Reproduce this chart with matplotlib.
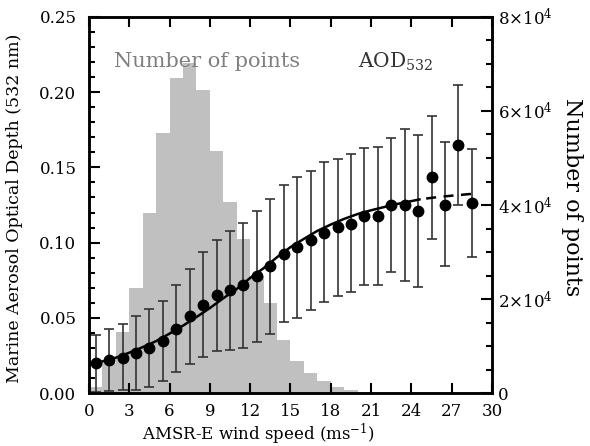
#!/usr/bin/env python3
"""Marine AOD (532 nm) vs AMSR-E wind speed, with histogram of number of points."""

import matplotlib

matplotlib.use("Agg")
import matplotlib.pyplot as plt
import numpy as np

plt.rcParams["font.family"] = ["DejaVu Serif", "DejaVu Sans"]
plt.rcParams["mathtext.fontset"] = "dejavuserif"

# histogram: 1 m/s bins from 0 to 30
bin_edges = list(range(0, 31))
counts = [1300, 6300, 12900, 22400, 38300, 55400, 67100, 70200, 64500, 51400,
          40700, 32700, 24800, 19100, 11300, 6800, 4200, 2500, 1300, 600,
          250, 100, 50, 0, 0, 0, 0, 0, 0, 0]

# binned mean AOD with error bars
wind = [0.5, 1.5, 2.5, 3.5, 4.5, 5.5, 6.5, 7.5, 8.5, 9.5,
        10.5, 11.5, 12.5, 13.5, 14.5, 15.5, 16.5, 17.5, 18.5, 19.5,
        20.5, 21.5, 22.5, 23.5, 24.5, 25.5, 26.5, 27.5, 28.5]
aod = [0.0198, 0.0220, 0.0236, 0.0264, 0.0298, 0.0347, 0.0427, 0.0509, 0.0587, 0.0653,
       0.0682, 0.0718, 0.0776, 0.0842, 0.0924, 0.0969, 0.1016, 0.1064, 0.1102, 0.1124,
       0.1176, 0.1180, 0.1249, 0.1249, 0.1209, 0.1436, 0.1253, 0.1649, 0.1260]
aod_hi = [0.0387, 0.0425, 0.0458, 0.0509, 0.0558, 0.0613, 0.0720, 0.0824, 0.0936, 0.1020,
          0.1080, 0.1131, 0.1209, 0.1293, 0.1380, 0.1436, 0.1476, 0.1536, 0.1558, 0.1587,
          0.1627, 0.1636, 0.1693, 0.1753, 0.1713, 0.1842, 0.1669, 0.2049, 0.1620]
aod_lo = [0.0010, 0.0015, 0.0020, 0.0020, 0.0038, 0.0080, 0.0138, 0.0190, 0.0242, 0.0280,
          0.0287, 0.0298, 0.0342, 0.0391, 0.0469, 0.0498, 0.0553, 0.0602, 0.0642, 0.0669,
          0.0720, 0.0716, 0.0804, 0.0742, 0.0702, 0.1024, 0.0842, 0.1253, 0.0902]

# fitted curve (solid part, then dashed extension)
fit_x = [0.2, 1, 2, 3, 4, 5, 6, 7, 8, 9, 10, 11, 12, 13, 14, 15, 16, 17, 18, 19,
         20, 21, 22, 23, 24, 24.6]
fit_y = [0.0195, 0.0210, 0.0235, 0.0268, 0.0305, 0.0345, 0.0395, 0.0448, 0.0505, 0.0565,
         0.0630, 0.0692, 0.0765, 0.0830, 0.0903, 0.0970, 0.1025, 0.1078, 0.1120, 0.1158,
         0.1190, 0.1215, 0.1237, 0.1258, 0.1276, 0.1287]
ext_x = [25.1, 26.0, 27.0, 28.0, 28.5]
ext_y = [0.1293, 0.1303, 0.1312, 0.1320, 0.1324]

fig = plt.figure(figsize=(5.9, 4.46), dpi=100)
ax = fig.add_axes([0.1508, 0.1188, 0.6831, 0.8431])
ax2 = ax.twinx()
ax.set_zorder(ax2.get_zorder() + 1)
ax.patch.set_visible(False)

ax2.stairs(counts, bin_edges, fill=True, color="#c0c0c0", linewidth=0)
ax2.set_ylim(0, 80000)
ax2.set_yticks([0, 20000, 40000, 60000, 80000],
               ["0", r"$2{\times}10^4$", r"$4{\times}10^4$", r"$6{\times}10^4$", r"$8{\times}10^4$"])
ax2.set_yticks(np.arange(0, 80001, 5000), minor=True)
ax2.set_ylabel("Number of points", rotation=-90, fontsize=16)
ax2.yaxis.set_label_coords(1.225, 0.52)

err = [np.array(aod) - np.array(aod_lo), np.array(aod_hi) - np.array(aod)]
ax.errorbar(wind, aod, yerr=err, fmt="o", color="black", ecolor="#333333",
            elinewidth=1.2, capsize=3.5, capthick=1.2, markersize=7.5)
ax.plot(fit_x, fit_y, color="black", linewidth=1.8)
ax.plot(ext_x, ext_y, color="black", linewidth=1.8, linestyle=(0, (4, 3)))

ax.set_xlim(0, 30)
ax.set_ylim(0, 0.25)
ax.set_xticks(range(0, 31, 3))
ax.set_yticks([0, 0.05, 0.10, 0.15, 0.20, 0.25])
ax.set_yticks(np.arange(0, 0.2501, 0.01), minor=True)
ax.yaxis.set_major_formatter(matplotlib.ticker.FormatStrFormatter("%.2f"))
ax.set_xlabel("AMSR-E wind speed (ms$^{-1}$)", fontsize=12)
ax.xaxis.set_label_coords(0.42, -0.076)
ax.set_ylabel("Marine Aerosol Optical Depth (532 nm)", fontsize=12.5)
ax.yaxis.set_label_coords(-0.163, 0.49)

for a in (ax, ax2):
    for s in a.spines.values():
        s.set_linewidth(1.8)
ax.tick_params(axis="both", which="both", direction="in", labelsize=12, width=1.5)
ax.tick_params(axis="x", top=True, length=7, pad=7)
ax.tick_params(axis="y", which="major", length=8, pad=9)
ax.tick_params(axis="y", which="minor", length=4)
ax2.tick_params(axis="y", which="both", direction="in", labelsize=12, width=1.5)
ax2.tick_params(axis="y", which="major", length=8, pad=4)
ax2.tick_params(axis="y", which="minor", length=4)

ax.text(1.9, 0.2165, "Number of points", color="#7f7f7f", fontsize=15)
ax.text(20.0, 0.2165, "AOD$_{532}$", color="#333333", fontsize=14.5)

fig.savefig("out.png", dpi=100)
